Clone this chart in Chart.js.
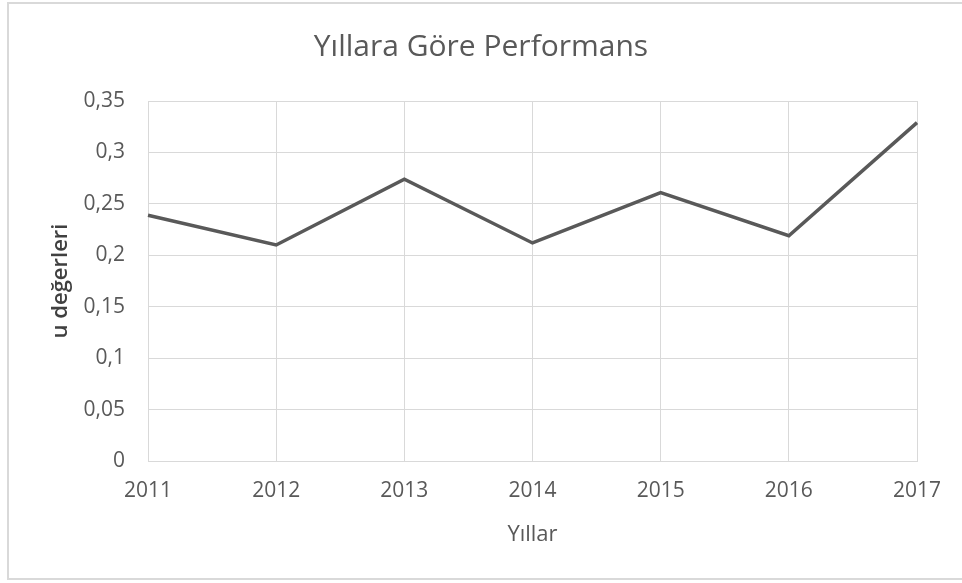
<!DOCTYPE html>
<html>
<head>
<meta charset="utf-8">
<script src="https://cdn.jsdelivr.net/npm/chart.js@4/dist/chart.umd.min.js"></script>
<style>
    body { margin: 0; background: #fff; }
    #wrap { width: 962px; height: 583px; }
</style>
</head>
<body>
<div id="wrap"><canvas id="lineChart" width="962" height="583"></canvas></div>
<script>
// Chart data
var years = ['2011', '2012', '2013', '2014', '2015', '2016', '2017'];
var uValues = [0.239, 0.210, 0.274, 0.212, 0.261, 0.219, 0.329];
var yTickLabels = ['0', '0,05', '0,1', '0,15', '0,2', '0,25', '0,3', '0,35'];

var grey = '#595959';
var gridGrey = '#d9d9d9';
var fontFamily = '"Open Sans", sans-serif';

// Draw white background and light frame like the Excel chart
var framePlugin = {
    id: 'frame',
    beforeDraw: function (chart) {
        var ctx = chart.ctx;
        ctx.save();
        ctx.fillStyle = '#ffffff';
        ctx.fillRect(0, 0, chart.width, chart.height);
        ctx.strokeStyle = gridGrey;
        ctx.lineWidth = 2;
        ctx.strokeRect(8, 3, chart.width + 10, 576);
        ctx.restore();
    }
};

var ctx = document.getElementById('lineChart').getContext('2d');
new Chart(ctx, {
    type: 'line',
    data: {
        labels: years,
        datasets: [{
            label: 'u değerleri',
            data: uValues,
            borderColor: grey,
            borderWidth: 3.5,
            pointRadius: 0,
            tension: 0,
            fill: false
        }]
    },
    options: {
        responsive: false,
        animation: false,
        layout: {
            padding: 0
        },
        plugins: {
            legend: { display: false },
            tooltip: { enabled: false },
            title: {
                display: true,
                text: 'Yıllara Göre Performans',
                color: grey,
                font: { family: fontFamily, size: 30, weight: 'normal' },
                padding: { top: 29, bottom: 36 }
            }
        },
        scales: {
            x: {
                offset: false,
                grid: { color: gridGrey, drawTicks: false },
                border: { color: gridGrey },
                ticks: {
                    color: grey,
                    padding: 17,
                    maxRotation: 0,
                    font: { family: fontFamily, size: 21 }
                },
                title: {
                    display: true,
                    text: 'Yıllar',
                    color: grey,
                    font: { family: fontFamily, size: 22 },
                    padding: { top: 0, bottom: 35 }
                },
                afterFit: function (scale) { scale.height = 122; }
            },
            y: {
                min: 0,
                max: 0.35,
                grid: { color: gridGrey, drawTicks: false },
                border: { display: false },
                ticks: {
                    stepSize: 0.05,
                    color: grey,
                    padding: 23,
                    font: { family: fontFamily, size: 21 },
                    callback: function (value, index) { return yTickLabels[index]; }
                },
                title: {
                    display: true,
                    text: 'u değerleri',
                    color: '#404040',
                    font: { family: fontFamily, size: 22, weight: '600' },
                    padding: { top: 48, bottom: 0 }
                },
                afterFit: function (scale) { scale.width = 148; }
            },
            // empty right axis, only reserves the margin on the right
            yRight: {
                position: 'right',
                display: true,
                min: 0,
                max: 0.35,
                grid: { display: false, drawTicks: false },
                border: { display: false },
                ticks: { display: false },
                afterFit: function (scale) { scale.width = 45; }
            }
        }
    },
    plugins: [framePlugin]
});
</script>
</body>
</html>
